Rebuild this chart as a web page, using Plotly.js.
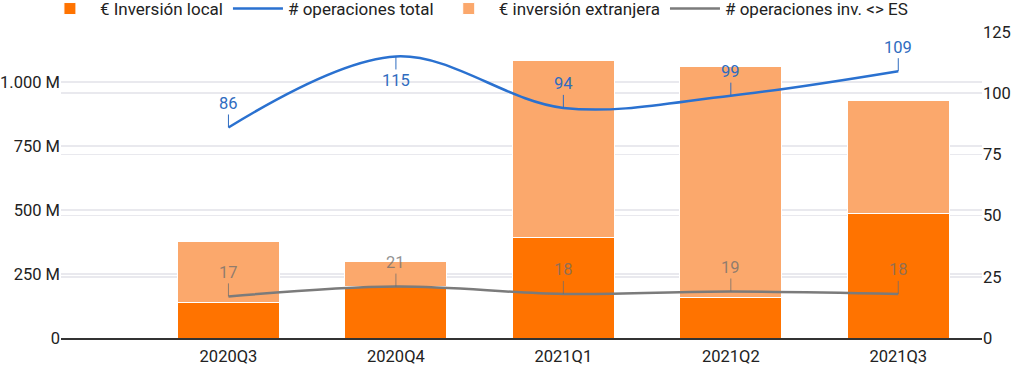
<!DOCTYPE html>
<html>
<head>
<meta charset="utf-8">
<script src="https://cdn.plot.ly/plotly-3.0.1.min.js"></script>
<style>
html,body{margin:0;padding:0;background:#fff;}
#chart{width:1024px;height:365px;}
</style>
</head>
<body>
<div id="chart"></div>
<script>
const categories = ['2020Q3', '2020Q4', '2021Q1', '2021Q2', '2021Q3'];
const inversionLocal = [137, 203, 392, 159, 487];          // M€
const inversionExtranjera = [238, 95, 691, 903, 440];      // M€
const operacionesTotal = [86, 115, 94, 99, 109];
const operacionesES = [17, 21, 18, 19, 18];
const leftTickVals = [0, 250, 500, 750, 1000];
const leftTickText = ['0', '250 M', '500 M', '750 M', '1.000 M'];
const rightTickVals = [0, 25, 50, 75, 100, 125];

const FONT = 'Roboto, "Noto Sans", sans-serif';
const BLUE = '#2a71d0';
const BLUE_TXT = '#2f6cc0';
const GRAY = '#7b7b7b';
const TICK_SIZE = 16.5;
const Y2_MAX = 125;

const traces = [
  {
    type: 'bar', name: '€ Inversión local', x: categories, y: inversionLocal,
    marker: {color: '#ff7300', line: {color: '#ffffff', width: 1}},
    legendrank: 1, hoverinfo: 'skip'
  },
  {
    type: 'bar', name: '€ inversión extranjera', x: categories, y: inversionExtranjera,
    marker: {color: '#fba86c', line: {color: '#ffffff', width: 1}},
    legendrank: 3, hoverinfo: 'skip'
  },
  {
    type: 'scatter', mode: 'lines', name: '# operaciones total', x: categories, y: operacionesTotal,
    yaxis: 'y2', line: {color: BLUE, width: 2.5, shape: 'spline', smoothing: 1},
    legendrank: 2, hoverinfo: 'skip'
  },
  {
    type: 'scatter', mode: 'lines', name: '# operaciones inv. <> ES', x: categories, y: operacionesES,
    yaxis: 'y2', line: {color: GRAY, width: 2.5, shape: 'spline', smoothing: 1},
    legendrank: 4, hoverinfo: 'skip'
  }
];

// label goes below the point when there is no room above it
function labelOffset(v) { return v > Y2_MAX - 14 ? 24 : -24; }

const annotations = [];
categories.forEach((c, i) => {
  annotations.push({
    x: c, y: operacionesTotal[i], xref: 'x', yref: 'y2',
    text: String(operacionesTotal[i]), showarrow: true, arrowhead: 0, arrowwidth: 1,
    arrowcolor: BLUE_TXT, ax: 0, ay: labelOffset(operacionesTotal[i]), standoff: 0,
    font: {family: FONT, size: 16.5, color: BLUE_TXT}
  });
  annotations.push({
    x: c, y: operacionesES[i], xref: 'x', yref: 'y2',
    text: String(operacionesES[i]), showarrow: true, arrowhead: 0, arrowwidth: 1,
    arrowcolor: 'rgba(110,110,110,0.75)', ax: 0, ay: labelOffset(operacionesES[i]), standoff: 0,
    font: {family: FONT, size: 16.5, color: 'rgba(110,110,110,0.75)'}
  });
});

const layout = {
  width: 1024, height: 365,
  margin: {l: 61, r: 42, t: 32, b: 27, autoexpand: false},
  paper_bgcolor: '#ffffff', plot_bgcolor: '#ffffff',
  font: {family: FONT, size: 14, color: '#222'},
  barmode: 'stack', bargap: 0.39,
  showlegend: true,
  legend: {
    orientation: 'h', xref: 'container', x: 0.039, xanchor: 'left',
    yref: 'paper', y: 1.134, yanchor: 'top',
    font: {family: FONT, size: 17, color: '#222'}, itemwidth: 50, traceorder: 'normal'
  },
  xaxis: {
    type: 'category', range: [-1, 4.5], showgrid: false,
    showline: true, linecolor: '#333', linewidth: 1.5,
    ticks: '', ticklabelstandoff: 3,
    tickfont: {family: FONT, size: TICK_SIZE, color: '#222'}, fixedrange: true
  },
  yaxis: {
    range: [0, 1195], tickvals: leftTickVals, ticktext: leftTickText,
    showgrid: true, gridcolor: '#e9e9ee', gridwidth: 1.5, zeroline: false,
    tickfont: {family: FONT, size: TICK_SIZE, color: '#222'}, ticklen: 0, fixedrange: true
  },
  yaxis2: {
    overlaying: 'y', side: 'right', range: [0, Y2_MAX], tickvals: rightTickVals,
    showgrid: true, gridcolor: '#e9e9ee', gridwidth: 1.5, zeroline: false,
    tickfont: {family: FONT, size: TICK_SIZE, color: '#222'}, fixedrange: true
  },
  annotations: annotations
};

Plotly.newPlot('chart', traces, layout, {displayModeBar: false, staticPlot: true});
</script>
</body>
</html>
